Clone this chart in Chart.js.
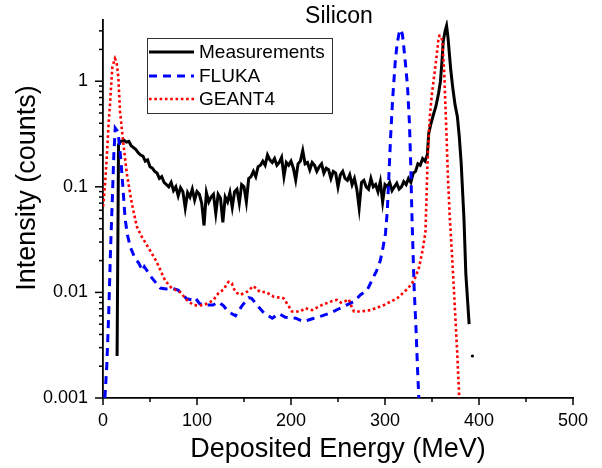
<!DOCTYPE html>
<html>
<head>
<meta charset="utf-8">
<script src="https://cdn.jsdelivr.net/npm/chart.js@4.4.1/dist/chart.umd.min.js"></script>
<style>
  body { margin: 0; background: #fff; }
  #chart { display: block; }
</style>
</head>
<body>
<canvas id="chart" width="602" height="468"></canvas>
<script>
// Silicon: measured vs simulated deposited energy spectra

const measEnergy = [15, 16.5, 19,
  22.5, 25, 27.5, 30, 32.5, 35, 37.5, 40, 42.5, 45,
  47.5, 50, 52.5, 55, 57.5, 60, 62.5, 65, 67.5, 70,
  72.5, 75, 77.5, 80, 82.5, 85, 87.5, 90, 92.5, 95,
  97.5, 100, 102.5, 105, 107.5, 110, 112.5, 115, 117.5, 120,
  122.5, 125, 127.5, 130, 132.5, 135, 137.5, 140, 142.5, 145,
  147.5, 150, 152.5, 155, 157.5, 160, 162.5, 165, 167.5, 170,
  172.5, 175, 177.5, 180, 182.5, 185, 187.5, 190, 192.5, 195,
  197.5, 200, 202.5, 205, 207.5, 210, 212.5, 215, 217.5, 220,
  222.5, 225, 227.5, 230, 232.5, 235, 237.5, 240, 242.5, 245,
  247.5, 250, 252.5, 255, 257.5, 260, 262.5, 265, 267.5, 270,
  272.5, 275, 277.5, 280, 282.5, 285, 287.5, 290, 292.5, 295,
  297.5, 300, 302.5, 305, 307.5, 310, 312.5, 315, 317.5, 320,
  322.5, 325, 327.5, 330, 332.5, 335, 337.5, 340, 342.5, 345,
  346.5, 349, 352, 354, 357, 359, 360.5, 362, 364, 365.5,
  367, 370, 372, 374.5, 377, 379, 381, 384, 386, 388,
  389.5, 391, 393];
const measCounts = [0.0025, 0.25, 0.27,
  0.275, 0.265, 0.27, 0.245, 0.235, 0.225, 0.21, 0.2, 0.195, 0.175,
  0.18, 0.155, 0.15, 0.14, 0.135, 0.12, 0.125, 0.11, 0.105, 0.1,
  0.11, 0.092, 0.1, 0.082, 0.098, 0.09, 0.063, 0.088, 0.08, 0.095,
  0.075, 0.09, 0.085, 0.07, 0.043, 0.088, 0.072, 0.08, 0.085, 0.056,
  0.085, 0.078, 0.046, 0.08, 0.072, 0.088, 0.064, 0.09, 0.095, 0.07,
  0.105, 0.1, 0.072, 0.12, 0.125, 0.14, 0.125, 0.155, 0.16, 0.175,
  0.16, 0.2, 0.18, 0.17, 0.185, 0.16, 0.17, 0.19, 0.125, 0.17,
  0.16, 0.175, 0.15, 0.116, 0.165, 0.175, 0.22, 0.165, 0.17, 0.145,
  0.17, 0.16, 0.14, 0.155, 0.165, 0.135, 0.15, 0.145, 0.12, 0.14,
  0.135, 0.1, 0.13, 0.14, 0.12, 0.115, 0.13, 0.105, 0.12, 0.095,
  0.063, 0.11, 0.115, 0.1, 0.095, 0.12, 0.1, 0.105, 0.09, 0.112,
  0.072, 0.105, 0.1, 0.11, 0.092, 0.1, 0.108, 0.095, 0.1, 0.112,
  0.105, 0.12, 0.11, 0.135, 0.14, 0.165, 0.16, 0.185, 0.175, 0.2,
  0.32, 0.4, 0.5, 0.57, 0.77, 1.0, 1.5, 2.4, 3.0, 3.35,
  2.6, 1.27, 0.88, 0.6, 0.46, 0.3, 0.17, 0.05, 0.015, 0.008,
  0.005, null, 0.0025];

const flukaEnergy = [2, 4, 6, 8, 10, 11.5, 13, 15, 16.5, 19,
  21.5, 23.5, 26, 29, 34, 38, 42, 44, 52, 61,
  67, 73, 80, 89, 95, 98, 103, 110, 117, 123,
  128, 133, 141, 148, 155, 158, 165, 171, 180, 187,
  194, 205, 213, 222, 233, 242, 251, 258, 267, 274,
  281, 286, 291, 295, 298, 300.5, 302.5, 304, 306, 308,
  311, 313, 315, 316.6, 318.5, 320, 322, 324, 326, 327.5,
  328.5, 329.5, 331, 333, 334.5, 336];
const flukaCounts = [0.001, 0.002, 0.006, 0.025, 0.08, 0.2, 0.36, 0.34, 0.3, 0.18,
  0.09, 0.05, 0.035, 0.027, 0.021, 0.019, 0.016, 0.0175, 0.0137, 0.011,
  0.0108, 0.011, 0.0105, 0.0087, 0.0085, 0.0089, 0.0078, 0.0076, 0.0076, 0.0081,
  0.0075, 0.0066, 0.006, 0.0075, 0.0089, 0.0088, 0.0074, 0.0064, 0.0057, 0.0063,
  0.0058, 0.0057, 0.0053, 0.0056, 0.006, 0.0064, 0.007, 0.0075, 0.0082, 0.0095,
  0.0105, 0.013, 0.016, 0.02, 0.027, 0.036, 0.06, 0.12, 0.3, 0.65,
  1.58, 2.3, 2.85, 3.1, 2.8, 2.1, 1.4, 0.88, 0.4, 0.15,
  0.06, 0.03, 0.011, 0.0045, 0.002, 0.001];

const geantEnergy = [0, 2, 4, 6, 7.5, 10, 12.8, 14.5, 16.3, 18,
  21.6, 25.3, 30.6, 36, 41, 50, 57, 66, 73, 82,
  89, 96, 102, 107, 112, 117.6, 123, 128, 133.6, 137,
  140.7, 146, 153, 160, 167, 173, 181.6, 192, 197.6, 201,
  210, 215, 222.5, 233, 244, 249, 253, 257, 261.5, 264,
  267, 274, 284.6, 299, 313, 324, 331, 336, 340, 343,
  344, 345, 346.5, 348, 350, 354, 356.8, 358, 359.5, 361,
  363, 365, 367, 369, 371, 373, 375, 377, 379];
const geantCounts = [0.065, 0.1, 0.19, 0.4, 0.62, 1.37, 1.64, 1.5, 1.1, 0.53,
  0.26, 0.134, 0.07, 0.042, 0.034, 0.025, 0.0195, 0.013, 0.011, 0.0101,
  0.0085, 0.0076, 0.0075, 0.0076, 0.0079, 0.0085, 0.0099, 0.0106, 0.0126, 0.0122,
  0.0101, 0.0095, 0.0101, 0.0115, 0.0101, 0.0101, 0.0091, 0.0088, 0.0074, 0.0066,
  0.0066, 0.0071, 0.0068, 0.0076, 0.0083, 0.0085, 0.008, 0.0082, 0.0086, 0.0075,
  0.0066, 0.0066, 0.0068, 0.0076, 0.0088, 0.0108, 0.013, 0.017, 0.025, 0.037,
  0.07, 0.15, 0.3, 0.5, 0.77, 1.48, 2.45, 2.7, 2.7, 2.4,
  1.2, 0.4, 0.12, 0.05, 0.025, 0.012, 0.0055, 0.0025, 0.001];

const xTicks = [0, 100, 200, 300, 400, 500];
const yTicks = [0.001, 0.01, 0.1, 1];
const yTickLabels = ['0.001', '0.01', '0.1', '1'];

const FONT = '"Liberation Sans", Arial, sans-serif';
Chart.defaults.font.family = FONT;
Chart.defaults.color = '#000';

const toPoints = (xs, ys) => xs.map((x, i) => ({ x: x, y: ys[i] }));

// title, rotated y title, legend box and the major/minor tick marks
const extras = {
    id: 'extras',
    afterDraw(chart) {
        const ctx = chart.ctx;
        const xs = chart.scales.x;
        const ys = chart.scales.y;
        ctx.save();

        ctx.strokeStyle = '#000';
        ctx.lineWidth = 1.5;
        xs.ticks.forEach(t => {
            const px = xs.getPixelForValue(t.value);
            const len = xTicks.includes(t.value) ? 7 : 4;
            ctx.beginPath();
            ctx.moveTo(px, xs.top);
            ctx.lineTo(px, xs.top + len);
            ctx.stroke();
        });
        ys.ticks.forEach(t => {
            const py = ys.getPixelForValue(t.value);
            const major = yTicks.some(v => Math.abs(v - t.value) / v < 1e-6);
            const len = major ? 8 : 4;
            ctx.beginPath();
            ctx.moveTo(ys.right, py);
            ctx.lineTo(ys.right - len, py);
            ctx.stroke();
        });

        ctx.fillStyle = '#000';
        ctx.textAlign = 'center';
        ctx.textBaseline = 'middle';
        ctx.font = '23px ' + FONT;
        ctx.fillText('Silicon', 339, 17);

        ctx.save();
        ctx.translate(28, 188);
        ctx.rotate(-Math.PI / 2);
        ctx.font = '27px ' + FONT;
        ctx.fillText('Intensity (counts)', 0, 0);
        ctx.restore();

        // legend
        ctx.lineWidth = 1;
        ctx.strokeStyle = '#333';
        ctx.strokeRect(147.5, 38.5, 185, 75);
        const rows = [52, 76, 99];
        ctx.font = '19px ' + FONT;
        ctx.textAlign = 'left';
        chart.data.datasets.forEach((ds, i) => {
            ctx.save();
            ctx.strokeStyle = ds.borderColor;
            ctx.lineWidth = ds.borderWidth;
            ctx.setLineDash(ds.borderDash || []);
            ctx.beginPath();
            ctx.moveTo(149, rows[i]);
            ctx.lineTo(194, rows[i]);
            ctx.stroke();
            ctx.restore();
            ctx.fillText(ds.label, 199, rows[i] + 1);
        });

        ctx.restore();
    }
};

new Chart(document.getElementById('chart'), {
    type: 'line',
    data: {
        datasets: [
            {
                label: 'Measurements',
                data: toPoints(measEnergy, measCounts),
                borderColor: '#000000',
                backgroundColor: '#000000',
                borderWidth: 3,
                pointRadius: c => (c.dataIndex === measEnergy.length - 1 ? 1.6 : 0),
                pointBorderWidth: 0,
                order: 3,
            },
            {
                label: 'FLUKA',
                data: toPoints(flukaEnergy, flukaCounts),
                borderColor: '#0000FF',
                borderWidth: 3,
                borderDash: [8, 6],
                pointRadius: 0,
                order: 2,
            },
            {
                label: 'GEANT4',
                data: toPoints(geantEnergy, geantCounts),
                borderColor: '#FF0000',
                borderWidth: 2.6,
                borderDash: [2.6, 2.7],
                pointRadius: 0,
                order: 1,
            },
        ],
    },
    options: {
        responsive: false,
        animation: false,
        layout: { padding: { top: 20, right: 29, left: 0, bottom: 0 } },
        plugins: {
            legend: { display: false },
            tooltip: { enabled: false },
        },
        scales: {
            x: {
                type: 'linear',
                min: 0,
                max: 500,
                afterBuildTicks: s => {
                    const t = [];
                    xTicks.forEach((v, i) => {
                        t.push({ value: v });
                        if (i < xTicks.length - 1) t.push({ value: (v + xTicks[i + 1]) / 2 });
                    });
                    s.ticks = t;
                },
                afterFit: s => { s.height = 70; },
                grid: { drawOnChartArea: false, tickLength: 8, tickColor: 'rgba(0,0,0,0)' },
                border: { color: '#000', width: 1.8 },
                ticks: {
                    autoSkip: false,
                    maxRotation: 0,
                    padding: 4,
                    font: { size: 18 },
                    callback: v => (xTicks.includes(v) ? String(v) : ''),
                },
                title: {
                    display: true,
                    text: 'Deposited Energy (MeV)',
                    font: { size: 27 },
                    padding: { top: 0, bottom: 2 },
                },
            },
            y: {
                type: 'logarithmic',
                min: 0.001,
                max: 3.8,
                afterBuildTicks: s => {
                    const t = [];
                    yTicks.forEach(d => {
                        for (let k = 1; k <= 9; k++) {
                            const v = +(k * d).toPrecision(6);
                            if (v <= s.max) t.push({ value: v });
                        }
                    });
                    s.ticks = t;
                },
                afterFit: s => { s.width = 103; },
                grid: { drawOnChartArea: false, tickLength: 8, tickColor: 'rgba(0,0,0,0)' },
                border: { color: '#000', width: 1.8 },
                ticks: {
                    autoSkip: false,
                    padding: 7,
                    font: { size: 18 },
                    callback: v => {
                        const i = yTicks.findIndex(d => Math.abs(d - v) / d < 1e-6);
                        return i >= 0 ? yTickLabels[i] : '';
                    },
                },
            },
        },
    },
    plugins: [extras],
});
</script>
</body>
</html>
